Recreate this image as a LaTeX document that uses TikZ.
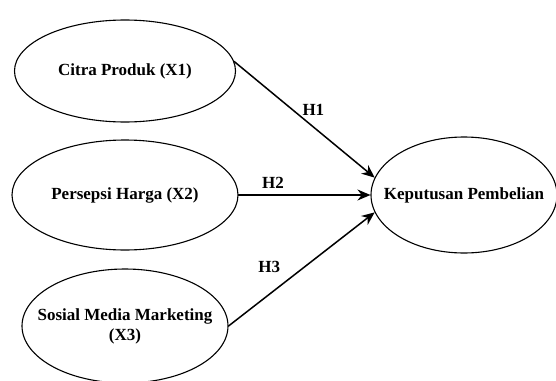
\documentclass[tikz,border=0pt]{standalone}
\usepackage{fontspec}
\setmainfont{Liberation Serif}
\usetikzlibrary{arrows.meta,shapes.geometric}
\newcommand{\fitin}[1]{\makebox[0pt]{#1}}
\tikzset{
  var/.style={ellipse, draw, line width=1.1pt, inner sep=0pt, align=center,
    font=\fontsize{17}{20}\selectfont\bfseries},
  hyp/.style={-{Stealth[length=13pt,width=11pt]}, line width=1.5pt},
  hlab/.style={font=\fontsize{17}{20}\selectfont\bfseries},
  every picture/.style={line cap=round, line join=round}
}
\begin{document}
\begin{tikzpicture}[x=1pt,y=-1pt]
  \useasboundingbox (0,0) rectangle (556,380);

  \node[var, minimum width=221pt, minimum height=102pt] (cp) at (125,71) {\fitin{Citra Produk (X1)}};
  \node[var, minimum width=226pt, minimum height=110pt] (ph) at (125,195) {\fitin{Persepsi Harga (X2)}};
  \node[var, minimum width=206pt, minimum height=114pt] (sm) at (125,326) {\fitin{Sosial Media Marketing}\\(X3)};

  \node[var, minimum width=186pt, minimum height=116pt] (kp) at (464,195) {\fitin{Keputusan Pembelian}};

  \draw[hyp] (cp.5)--node[hlab, above right, pos=0.55, xshift=-13pt, yshift=6pt] {H1} (kp.169);
  \draw[hyp] (ph.east)--node[hlab, above, pos=0.2, xshift=8pt, yshift=2pt] {H2} (kp.west);
  \draw[hyp] (sm.east)--node[hlab, above left, pos=0.45, xshift=-10pt, yshift=-2pt] {H3} (kp.191);
\end{tikzpicture}
\end{document}
